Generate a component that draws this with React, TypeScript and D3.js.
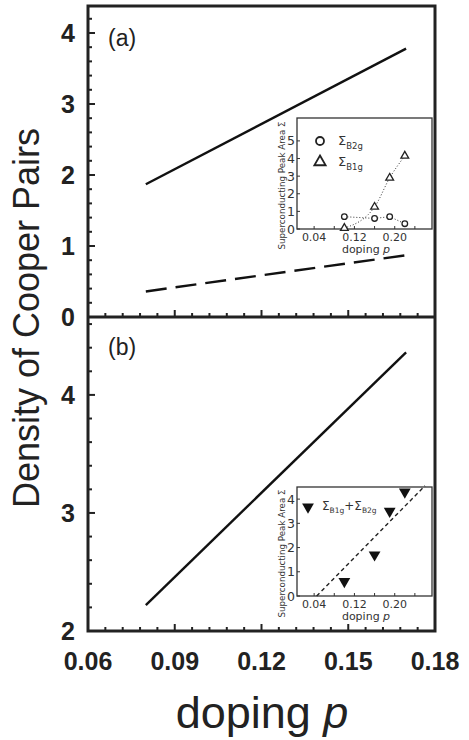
import React, { useEffect, useRef } from 'react';
import * as d3 from 'd3';

// main panels
const dopingEnds = [0.08, 0.17];
const solidA = [1.87, 3.78];
const dashedA = [0.36, 0.87];
const solidB = [2.22, 4.36];
const xTicks = [0.06, 0.09, 0.12, 0.15, 0.18];
const yTicksA = [0, 1, 2, 3, 4];
const yTicksB = [2, 3, 4];

// insets
const insetDoping = [0.1, 0.16, 0.19, 0.22];
const sigmaB2g = [0.7, 0.6, 0.7, 0.3];
const sigmaB1g = [0.05, 1.25, 2.9, 4.15];
const sigmaSum = [0.6, 1.7, 3.5, 4.3];
const sumFitX = [0.045, 0.26];
const sumFitY = [0, 4.55];
const insetXTicks = [0.04, 0.12, 0.2];
const insetYTicksA = [0, 1, 2, 3, 4, 5];
const insetYTicksB = [0, 1, 2, 3, 4];

const W = 469, H = 740;
const L = 88, R = 435, T = 6, MID = 317, B = 631;

function App() {
  const ref = useRef<SVGSVGElement>(null);

  useEffect(() => {
    const svg = d3.select(ref.current);
    svg.selectAll('*').remove();

    const x = d3.scaleLinear().domain([0.06, 0.18]).range([L, R]);
    const yA = d3.scaleLinear().domain([0, 4.38]).range([MID, T]);
    const yB = d3.scaleLinear().domain([2, 4.66]).range([B, MID]);
    const font = 'Liberation Sans, Arial, sans-serif';

    // panel ticks (inside)
    const minorX = d3.range(0.06, 0.1801, 0.006);
    [MID, B].forEach(base => {
      svg.append('g').selectAll('line').data(minorX).join('line')
        .attr('x1', d => x(d)).attr('x2', d => x(d))
        .attr('y1', base).attr('y2', (d, i) => base - (i % 5 === 0 ? 7 : 4))
        .attr('stroke', '#222').attr('stroke-width', 2);
    });
    const minorYA = d3.range(0, 4.39, 0.2);
    svg.append('g').selectAll('line').data(minorYA).join('line')
      .attr('x1', L).attr('x2', (d, i) => L + (i % 5 === 0 ? 7 : 4))
      .attr('y1', d => yA(d)).attr('y2', d => yA(d))
      .attr('stroke', '#222').attr('stroke-width', 2);
    const minorYB = d3.range(2, 4.67, 0.2);
    svg.append('g').selectAll('line').data(minorYB).join('line')
      .attr('x1', L).attr('x2', (d, i) => L + (i % 5 === 0 ? 7 : 4))
      .attr('y1', d => yB(d)).attr('y2', d => yB(d))
      .attr('stroke', '#222').attr('stroke-width', 2);

    // frame
    svg.append('rect').attr('x', L).attr('y', T).attr('width', R - L).attr('height', B - T)
      .attr('fill', 'none').attr('stroke', '#222').attr('stroke-width', 3);
    svg.append('line').attr('x1', L).attr('x2', R).attr('y1', MID).attr('y2', MID)
      .attr('stroke', '#222').attr('stroke-width', 3);

    // tick labels
    svg.append('g').selectAll('text').data(xTicks).join('text')
      .attr('x', d => x(d)).attr('y', 670).attr('text-anchor', 'middle')
      .attr('font-family', font).attr('font-weight', 'bold').attr('font-size', 25)
      .attr('fill', '#222').text(d => d.toFixed(2));
    svg.append('g').selectAll('text').data(yTicksA).join('text')
      .attr('x', 75).attr('y', d => yA(d) + 9).attr('text-anchor', 'end')
      .attr('font-family', font).attr('font-weight', 'bold').attr('font-size', 25)
      .attr('fill', '#222').text(d => d);
    svg.append('g').selectAll('text').data(yTicksB).join('text')
      .attr('x', 75).attr('y', d => yB(d) + 9).attr('text-anchor', 'end')
      .attr('font-family', font).attr('font-weight', 'bold').attr('font-size', 25)
      .attr('fill', '#222').text(d => d);

    // axis titles
    svg.append('text').attr('transform', 'translate(39,318) rotate(-90)')
      .attr('text-anchor', 'middle').attr('font-family', font).attr('font-size', 36)
      .attr('fill', '#222').text('Density of Cooper Pairs');
    const xt = svg.append('text').attr('x', 262).attr('y', 728).attr('text-anchor', 'middle')
      .attr('font-family', font).attr('font-size', 45).attr('fill', '#222');
    xt.append('tspan').text('doping ');
    xt.append('tspan').attr('font-style', 'italic').text('p');

    svg.append('text').attr('x', 108).attr('y', 46).attr('font-family', font)
      .attr('font-size', 23).attr('fill', '#222').text('(a)');
    svg.append('text').attr('x', 108).attr('y', 355).attr('font-family', font)
      .attr('font-size', 23).attr('fill', '#222').text('(b)');

    // main lines
    const lineA = d3.line<number>().x((d, i) => x(dopingEnds[i])).y(d => yA(d));
    const lineB = d3.line<number>().x((d, i) => x(dopingEnds[i])).y(d => yB(d));
    svg.append('path').attr('d', lineA(solidA)).attr('fill', 'none')
      .attr('stroke', '#111').attr('stroke-width', 2.4);
    svg.append('path').attr('d', lineA(dashedA)).attr('fill', 'none')
      .attr('stroke', '#111').attr('stroke-width', 2.4).attr('stroke-dasharray', '21,9');
    svg.append('path').attr('d', lineB(solidB)).attr('fill', 'none')
      .attr('stroke', '#111').attr('stroke-width', 2.4);

    // ---- insets ----
    const ifont = 'DejaVu Sans, sans-serif';
    const drawInset = (top: number, bottom: number, ymax: number, yticks: number[]) => {
      const g = svg.append('g');
      const ix = d3.scaleLinear().domain([0.006, 0.274]).range([297, 432]);
      const iy = d3.scaleLinear().domain([0, ymax]).range([bottom, top]);
      g.append('rect').attr('x', 297).attr('y', top).attr('width', 135).attr('height', bottom - top)
        .attr('fill', 'white').attr('stroke', '#333').attr('stroke-width', 1.3);
      const xt2 = d3.range(0.04, 0.261, 0.04);
      g.append('g').selectAll('line').data(xt2).join('line')
        .attr('x1', d => ix(d)).attr('x2', d => ix(d)).attr('y1', bottom).attr('y2', bottom - 3)
        .attr('stroke', '#333');
      g.append('g').selectAll('line').data(yticks).join('line')
        .attr('x1', 297).attr('x2', 300).attr('y1', d => iy(d)).attr('y2', d => iy(d))
        .attr('stroke', '#333');
      g.append('g').selectAll('text').data(insetXTicks).join('text')
        .attr('x', d => ix(d)).attr('y', bottom + 12).attr('text-anchor', 'middle')
        .attr('font-family', ifont).attr('font-size', 11).attr('fill', '#333')
        .text(d => d.toFixed(2));
      g.append('g').selectAll('text').data(yticks).join('text')
        .attr('x', 295).attr('y', d => iy(d) + 4.5).attr('text-anchor', 'end')
        .attr('font-family', ifont).attr('font-size', 12.5).attr('fill', '#333').text(d => d);
      const lab = g.append('text').attr('x', 366).attr('y', bottom + 24).attr('text-anchor', 'middle')
        .attr('font-family', ifont).attr('font-size', 11).attr('fill', '#333');
      lab.append('tspan').text('doping ');
      lab.append('tspan').attr('font-style', 'italic').text('p');
      g.append('text').attr('transform', `translate(285,${(top + bottom) / 2 + 12}) rotate(-90)`)
        .attr('text-anchor', 'middle').attr('font-family', ifont).attr('font-size', 8.7)
        .attr('fill', '#333').text('Superconducting Peak Area Σ');
      return { g, ix, iy };
    };

    // inset (a)
    const a = drawInset(118, 229, 6.3, insetYTicksA);
    const dotted = (vals: number[], curve: d3.CurveFactory) => d3.line<number>()
      .x((d, i) => a.ix(insetDoping[i])).y(d => a.iy(d)).curve(curve)(vals);
    a.g.append('path').attr('d', dotted(sigmaB2g, d3.curveLinear)).attr('fill', 'none')
      .attr('stroke', '#333').attr('stroke-dasharray', '1,2');
    a.g.append('path').attr('d', dotted(sigmaB1g, d3.curveMonotoneX)).attr('fill', 'none')
      .attr('stroke', '#333').attr('stroke-dasharray', '1,2');
    a.g.append('g').selectAll('circle').data(sigmaB2g).join('circle')
      .attr('cx', (d, i) => a.ix(insetDoping[i])).attr('cy', d => a.iy(d)).attr('r', 2.8)
      .attr('fill', 'white').attr('stroke', '#222').attr('stroke-width', 1.3);
    const tri = d3.symbol().type(d3.symbolTriangle).size(26);
    a.g.append('g').selectAll('path').data(sigmaB1g).join('path')
      .attr('transform', (d, i) => `translate(${a.ix(insetDoping[i])},${a.iy(d)})`)
      .attr('d', tri).attr('fill', 'white').attr('stroke', '#222').attr('stroke-width', 1.3);
    a.g.append('circle').attr('cx', 320).attr('cy', 141).attr('r', 4)
      .attr('fill', 'white').attr('stroke', '#222').attr('stroke-width', 1.8);
    a.g.append('path').attr('transform', 'translate(320,162)')
      .attr('d', d3.symbol().type(d3.symbolTriangle).size(55)).attr('fill', 'white')
      .attr('stroke', '#222').attr('stroke-width', 1.8);
    const sig = (yy: number, sub: string, xx: number) => {
      const t = a.g.append('text').attr('x', xx).attr('y', yy).attr('font-family', ifont)
        .attr('font-size', 13).attr('fill', '#333');
      t.append('tspan').text('Σ');
      t.append('tspan').attr('dy', 4).attr('font-size', 8.5).text(sub);
      return t;
    };
    sig(145, 'B2g', 338);
    sig(166, 'B1g', 338);

    // inset (b)
    const b = drawInset(487, 596, 4.5, insetYTicksB);
    b.g.append('path').attr('d', d3.line<number>().x((d, i) => b.ix(sumFitX[i])).y(d => b.iy(d))(sumFitY))
      .attr('fill', 'none').attr('stroke', '#222').attr('stroke-width', 1.4).attr('stroke-dasharray', '4,3');
    const down = d3.symbol().type(d3.symbolTriangle).size(60);
    b.g.append('g').selectAll('path').data(sigmaSum).join('path')
      .attr('transform', (d, i) => `translate(${b.ix(insetDoping[i])},${b.iy(d)}) rotate(180)`)
      .attr('d', down).attr('fill', '#111');
    b.g.append('path').attr('transform', 'translate(308,507) rotate(180)').attr('d', down).attr('fill', '#111');
    const t = b.g.append('text').attr('x', 322).attr('y', 510).attr('font-family', ifont)
      .attr('font-size', 12).attr('fill', '#333');
    t.append('tspan').text('Σ');
    t.append('tspan').attr('dy', 3).attr('font-size', 7.5).text('B1g');
    t.append('tspan').attr('dy', -3).attr('font-size', 12).text('+');
    t.append('tspan').text('Σ');
    t.append('tspan').attr('dy', 3).attr('font-size', 7.5).text('B2g');
  }, []);

  return (
    <svg ref={ref} width={W} height={H} style={{ position: 'absolute', left: 0, top: 0, background: 'white' }} />
  );
}

export default App;
